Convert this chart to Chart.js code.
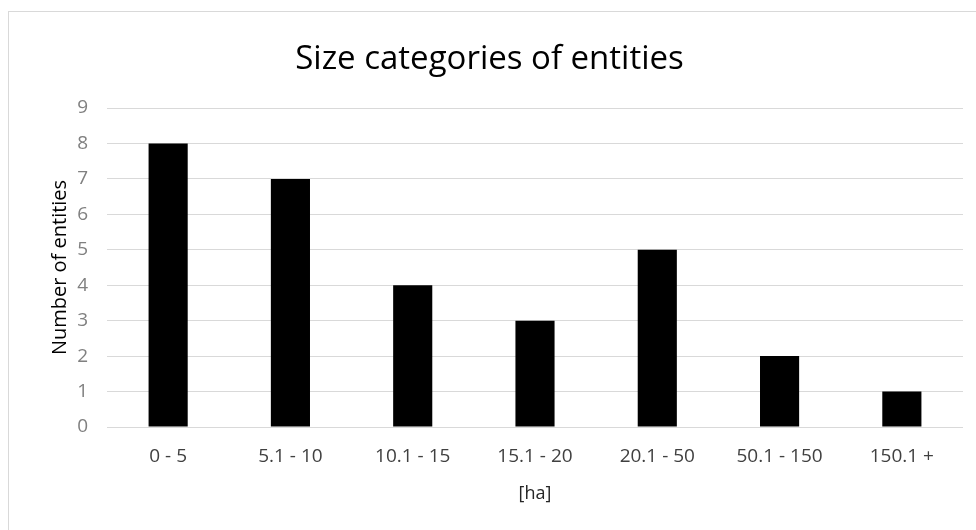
<!DOCTYPE html>
<html>
<head>
<meta charset="utf-8">
<script src="https://cdn.jsdelivr.net/npm/chart.js@4.4.1/dist/chart.umd.min.js"></script>
<style>
  html, body { margin: 0; padding: 0; background: #fff; }
  #wrap { width: 976px; height: 530px; }
</style>
</head>
<body>
<div id="wrap"><canvas id="chart" width="976" height="530"></canvas></div>
<script>
// data
const categories = ['0 - 5', '5.1 - 10', '10.1 - 15', '15.1 - 20', '20.1 - 50', '50.1 - 150', '150.1 +'];
const entityCounts = [8, 7, 4, 3, 5, 2, 1];
const yTicks = [0, 1, 2, 3, 4, 5, 6, 7, 8, 9];

const FONT = 'Open Sans';

// white background + the light frame around the chart
const frame = {
    id: 'frame',
    beforeDraw(chart) {
        const c = chart.ctx;
        c.save();
        c.fillStyle = '#fff';
        c.fillRect(0, 0, chart.width, chart.height);
        c.strokeStyle = '#d9d9d9';
        c.lineWidth = 1;
        c.strokeRect(8.5, 11.5, 1000, 1000);
        c.restore();
    }
};

new Chart(document.getElementById('chart'), {
    type: 'bar',
    data: {
        labels: categories,
        datasets: [{
            data: entityCounts,
            backgroundColor: '#000',
            borderWidth: 0,
            categoryPercentage: 1,
            barPercentage: 0.32
        }]
    },
    options: {
        responsive: false,
        animation: false,
        layout: { padding: { left: 16, right: 13, top: 0, bottom: 0 } },
        plugins: {
            legend: { display: false },
            tooltip: { enabled: false },
            title: {
                display: true,
                text: 'Size categories of entities',
                color: '#000',
                font: { family: FONT, size: 33, weight: 'normal', lineHeight: 1.2 },
                padding: { top: 40, bottom: 28.4 }
            }
        },
        scales: {
            x: {
                grid: { display: false, drawTicks: false },
                border: { display: false },
                ticks: {
                    color: '#404040',
                    padding: 18.6,
                    font: { family: FONT, size: 19, lineHeight: 1.2 }
                },
                title: {
                    display: true,
                    text: '[ha]',
                    color: '#262626',
                    font: { family: FONT, size: 18, lineHeight: 1.2 },
                    padding: { top: 0, bottom: 25 }
                },
                afterFit(scale) { scale.height = 103; }
            },
            y: {
                min: 0,
                max: 9,
                afterBuildTicks(scale) {
                    scale.ticks = yTicks.map(v => ({ value: v }));
                },
                grid: { color: '#d9d9d9', lineWidth: 1, drawTicks: false },
                border: { display: false },
                ticks: {
                    color: '#808080',
                    padding: 19,
                    font: { family: FONT, size: 19, lineHeight: 1.2 }
                },
                title: {
                    display: true,
                    text: 'Number of entities',
                    color: '#000',
                    font: { family: FONT, size: 20, lineHeight: 1.2 },
                    padding: { top: 32, bottom: 0 }
                },
                afterFit(scale) { scale.width = 91; }
            }
        }
    },
    plugins: [frame]
});
</script>
</body>
</html>
